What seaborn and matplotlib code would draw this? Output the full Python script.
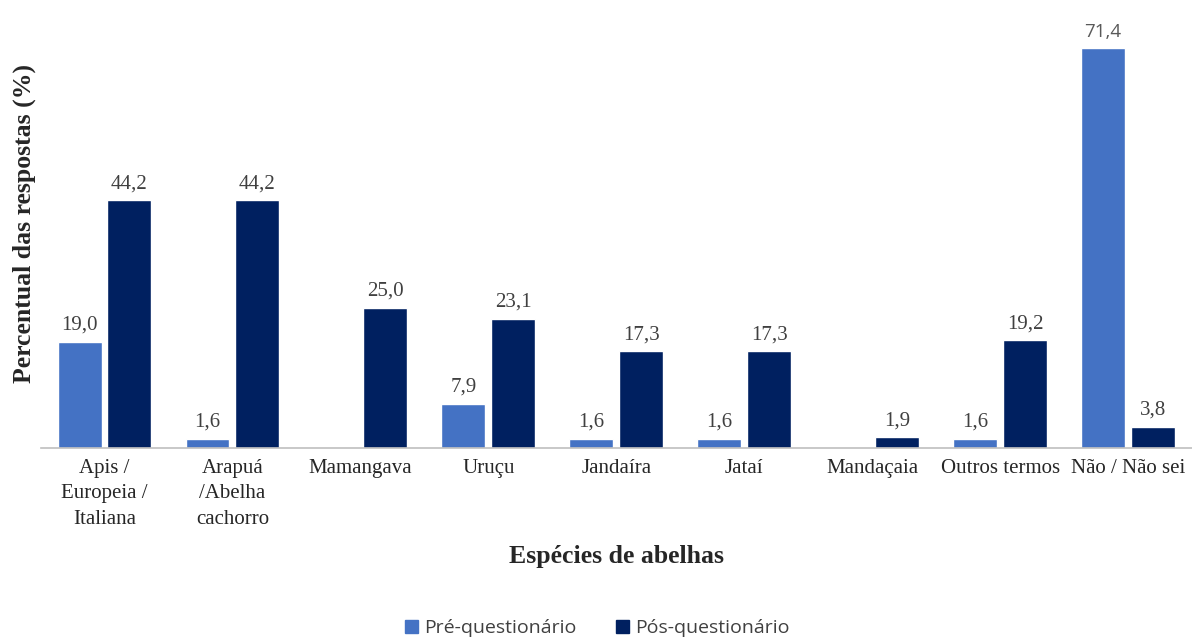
import numpy as np
import pandas as pd
import matplotlib.pyplot as plt
import matplotlib.patches as mpatches
import seaborn as sns

# ── Data ──────────────────────────────────────────────────────────────────────
categorias = ["Apis /\nEuropeia /\nItaliana", "Arapuá\n/Abelha\ncachorro", "Mamangava",
              "Uruçu", "Jandaíra", "Jataí", "Mandaçaia", "Outros termos", "Não / Não sei"]
pre_questionario = [19.0, 1.6, 0.0, 7.9, 1.6, 1.6, 0.0, 1.6, 71.4]
pos_questionario = [44.2, 44.2, 25.0, 23.1, 17.3, 17.3, 1.9, 19.2, 3.8]
series = ["Pré-questionário", "Pós-questionário"]
cores = ["#4472c4", "#002060"]

df = pd.DataFrame({
    "categoria": categorias * 2,
    "valor": pre_questionario + pos_questionario,
    "serie": [series[0]] * len(categorias) + [series[1]] * len(categorias),
})

# ── Plot ──────────────────────────────────────────────────────────────────────
sns.set_style("white")
plt.rcParams["font.family"] = ["Liberation Serif", "DejaVu Serif"]

fig = plt.figure(figsize=(11.92, 6.39), dpi=100)
ax = fig.add_axes([0.034, 0.299, 0.966, 0.701])

sns.barplot(data=df, x="categoria", y="valor", hue="serie", palette=cores,
            width=0.78, gap=0.12, ax=ax, legend=False, saturation=1)

for cont in ax.containers:
    labels = [f"{v:.1f}".replace(".", ",") if v > 0 else "" for v in cont.datavalues]
    texts = ax.bar_label(cont, labels=labels, padding=5, fontsize=15, color="#404040")
    # the tallest label is drawn in a sans font in the original
    for t, v in zip(texts, cont.datavalues):
        if v == max(pre_questionario):
            t.set_fontfamily("Open Sans")
            t.set_fontsize(13.5)
            t.set_color("#595959")

ax.set_ylim(0, 80)
ax.set_xlim(-0.5, 8.5)
ax.set_yticks([])
for s in ["top", "right", "left"]:
    ax.spines[s].set_visible(False)
ax.spines["bottom"].set_color("#bfbfbf")
ax.spines["bottom"].set_linewidth(1.2)
ax.tick_params(axis="x", length=0, pad=8, labelsize=15, colors="#262626")
for t in ax.get_xticklabels():
    t.set_linespacing(1.45)

ax.set_xlabel("Espécies de abelhas", fontsize=18.5, fontweight="bold", labelpad=12)
ax.set_ylabel("Percentual das respostas (%)", fontsize=18.5, fontweight="bold", labelpad=3)

handles = [mpatches.Patch(color=c, label=l) for c, l in zip(cores, series)]
fig.legend(handles=handles, loc="lower center", bbox_to_anchor=(0.501, -0.025), ncol=2,
           frameon=False, handlelength=0.7, handleheight=0.7, handletextpad=0.3,
           columnspacing=2.0, prop={"family": "Open Sans", "size": 14})
for t in fig.legends[0].get_texts():
    t.set_color("#404040")

fig.savefig("out.png", dpi=100)
